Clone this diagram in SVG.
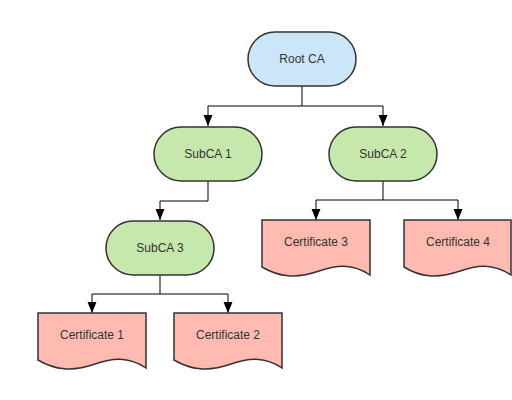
<svg xmlns="http://www.w3.org/2000/svg" width="512" height="400" viewBox="0 0 512 400">
<defs>
<marker id="arr" markerUnits="userSpaceOnUse" markerWidth="12" markerHeight="12" viewBox="0 0 12 12" refX="11" refY="6" orient="auto">
<path d="M0,1.5 L11,6 L0,10.5 Z" fill="#000"/>
</marker>
<style>
.term{stroke:#333;stroke-width:1.5}
.ca{fill:#c7e8ac}
.root{fill:#cce6f9}
.doc{fill:#ffbbb1;stroke:#333;stroke-width:1.5}
.lbl{font-family:"Liberation Sans",Arial,sans-serif;font-size:12px;fill:#333;text-anchor:middle;dominant-baseline:central}
.edge{fill:none;stroke:#000;stroke-width:1}
</style>
</defs>
<rect width="512" height="400" fill="#fff"/>
<g id="connectors">
<path class="edge" d="M302,86 V106 H208 V126" marker-end="url(#arr)"/>
<path class="edge" d="M302,106 H383 V126" marker-end="url(#arr)"/>
<path class="edge" d="M208,181 V201 H160 V220" marker-end="url(#arr)"/>
<path class="edge" d="M160,275 V294 H92 V313" marker-end="url(#arr)"/>
<path class="edge" d="M160,294 H228 V313" marker-end="url(#arr)"/>
<path class="edge" d="M383,181 V200 H316 V220" marker-end="url(#arr)"/>
<path class="edge" d="M383,200 H458 V220" marker-end="url(#arr)"/>
</g>
<g id="root-ca">
<rect class="term root" x="248" y="32" width="108" height="54" rx="27"/>
<text class="lbl" x="302" y="59">Root CA</text>
</g>
<g id="subca1">
<rect class="term ca" x="154" y="127" width="108" height="54" rx="27"/>
<text class="lbl" x="208" y="154">SubCA 1</text>
</g>
<g id="subca2">
<rect class="term ca" x="329" y="127" width="108" height="54" rx="27"/>
<text class="lbl" x="383" y="154">SubCA 2</text>
</g>
<g id="subca3">
<rect class="term ca" x="106" y="221" width="108" height="54" rx="27"/>
<text class="lbl" x="160" y="248">SubCA 3</text>
</g>
<g id="cert1">
<path class="doc" d="M38,313 H146 V368 C128,356 112,358 95,364 C72,372 55,370 38,360 Z"/>
<text class="lbl" x="92" y="335">Certificate 1</text>
</g>
<g id="cert2">
<path class="doc" d="M174,313 H282 V368 C264,356 248,358 231,364 C208,372 191,370 174,360 Z"/>
<text class="lbl" x="228" y="335">Certificate 2</text>
</g>
<g id="cert3">
<path class="doc" d="M262,220 H370 V275 C352,263 336,265 319,271 C296,279 279,277 262,267 Z"/>
<text class="lbl" x="316" y="242">Certificate 3</text>
</g>
<g id="cert4">
<path class="doc" d="M404,220 H511 V275 C493,263 477,265 460,271 C437,279 420,277 404,267 Z"/>
<text class="lbl" x="458" y="242">Certificate 4</text>
</g>
</svg>
